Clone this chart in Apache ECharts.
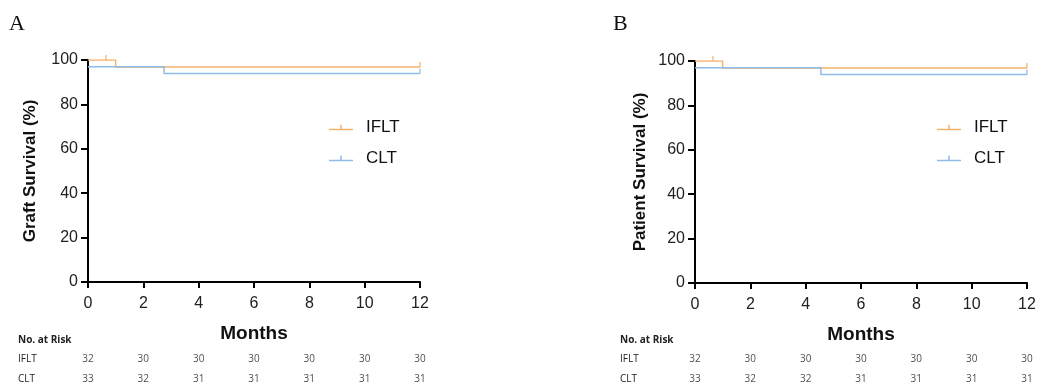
<!DOCTYPE html>
<html>
<head>
<meta charset="utf-8">
<script src="https://cdn.jsdelivr.net/npm/echarts@6/dist/echarts.min.js"></script>
<style>
  html, body { margin: 0; padding: 0; background: #fff; }
  #main { width: 1047px; height: 390px; }
</style>
</head>
<body>
<div id="main"></div>
<script>
// months ticks
const monthTicks = [0, 2, 4, 6, 8, 10, 12]
const groups = ['IFLT', 'CLT']

// A: graft survival (step points: time, %)
const graftIfltTime = [0, 1, 12]
const graftIfltSurv = [100, 96.9, 96.9]
const graftIfltCensor = [0.65, 12]
const graftCltTime = [0, 2.75, 12]
const graftCltSurv = [96.97, 93.94, 93.94]
const graftCltCensor = [12]

// B: patient survival
const patIfltTime = [0, 1, 12]
const patIfltSurv = [100, 96.9, 96.9]
const patIfltCensor = [0.65, 12]
const patCltTime = [0, 4.55, 12]
const patCltSurv = [96.97, 93.94, 93.94]
const patCltCensor = [12]

// number at risk
const graftRiskIflt = [32, 30, 30, 30, 30, 30, 30]
const graftRiskClt = [33, 32, 31, 31, 31, 31, 31]
const patRiskIflt = [32, 30, 30, 30, 30, 30, 30]
const patRiskClt = [33, 32, 32, 31, 31, 31, 31]

const ORANGE = '#f5b26b'
const BLUE = '#8dbbe8'
const FONT = 'Liberation Sans, Arial, sans-serif'
const tickIcon = 'path://M0,5h24v1.5H0z M11.25,1h1.5v4h-1.5z'

const chart = echarts.init(document.getElementById('main'))

function zip(xs, ys) {
  return xs.map((x, i) => [x, ys[i]])
}
function censorAt(times, xs, ys) {
  // survival value at time t from the step curve
  return times.map(t => {
    let v = ys[0]
    for (let i = 0; i < xs.length; i++) if (xs[i] <= t) v = ys[i]
    return [t, v]
  })
}

function survAxisX(idx) {
  return {
    gridIndex: idx, type: 'value', min: 0, max: 12, interval: 2,
    name: 'Months', nameLocation: 'middle', nameGap: 42,
    nameTextStyle: { fontFamily: FONT, fontSize: 19, fontWeight: 'bold', color: '#111' },
    axisLine: { lineStyle: { color: '#000', width: 2 } },
    axisTick: { show: true, length: 6, lineStyle: { color: '#000', width: 2 } },
    axisLabel: { fontFamily: FONT, fontSize: 16, color: '#222', margin: 14 },
    splitLine: { show: false }
  }
}
function survAxisY(idx, name, gap) {
  return {
    gridIndex: idx, type: 'value', min: 0, max: 100, interval: 20,
    name: name, nameLocation: 'middle', nameGap: gap,
    nameTextStyle: { fontFamily: FONT, fontSize: 17, fontWeight: 'bold', color: '#111' },
    axisLine: { show: true, lineStyle: { color: '#000', width: 2 } },
    axisTick: { show: true, length: 7, lineStyle: { color: '#000', width: 2 } },
    axisLabel: { fontFamily: FONT, fontSize: 16, color: '#222', margin: 10 },
    splitLine: { show: false }
  }
}
function riskAxisX(idx) {
  return { gridIndex: idx, type: 'value', min: 0, max: 12, show: false }
}
function riskAxisY(idx, left) {
  return {
    gridIndex: idx, type: 'category', data: groups, inverse: true,
    axisLine: { show: false }, axisTick: { show: false },
    axisLabel: { fontFamily: 'Open Sans, sans-serif', fontSize: 10, color: '#222', align: 'left', margin: left }
  }
}

function kmSeries(idx, name, color, xs, ys, censor) {
  return [
    {
      name: name, type: 'line', step: 'end', xAxisIndex: idx, yAxisIndex: idx,
      data: zip(xs, ys), symbol: 'none', lineStyle: { color: color, width: 1.5 },
      itemStyle: { color: color }, z: 3
    },
    {
      name: name, type: 'scatter', xAxisIndex: idx, yAxisIndex: idx,
      data: censorAt(censor, xs, ys), symbol: 'rect', symbolSize: [1.5, 5],
      symbolOffset: [0, -2.5], itemStyle: { color: color }, z: 4
    }
  ]
}
function riskSeries(idx, group, vals) {
  return {
    type: 'scatter', xAxisIndex: idx, yAxisIndex: idx, symbolSize: 0,
    data: monthTicks.map((m, i) => [m, group, vals[i]]),
    label: {
      show: true, position: 'inside', formatter: p => p.data[2],
      fontFamily: 'Open Sans, sans-serif', fontSize: 10, color: '#222'
    },
    silent: true
  }
}

function legendAt(left) {
  return {
    data: groups, orient: 'vertical', left: left, top: 114, itemGap: 14,
    itemWidth: 24, itemHeight: 8, icon: tickIcon,
    textStyle: { fontFamily: FONT, fontSize: 17, color: '#111', padding: [0, 0, 0, 8] }
  }
}

chart.setOption({
  animation: false,
  backgroundColor: '#fff',
  grid: [
    { left: 88, width: 332, top: 60, height: 222 },
    { left: 695, width: 332, top: 61, height: 222 },
    { left: 88, width: 332, top: 349, height: 40 },
    { left: 695, width: 332, top: 349, height: 40 }
  ],
  legend: [legendAt(324), legendAt(932)],
  xAxis: [survAxisX(0), survAxisX(1), riskAxisX(2), riskAxisX(3)],
  yAxis: [
    survAxisY(0, 'Graft Survival (%)', 49),
    survAxisY(1, 'Patient Survival (%)', 46),
    riskAxisY(2, 70),
    riskAxisY(3, 75)
  ],
  graphic: [
    { type: 'text', left: 9, top: 13, style: { text: 'A', font: '22px "Liberation Serif", serif', fill: '#111' } },
    { type: 'text', left: 613, top: 13, style: { text: 'B', font: '22px "Liberation Serif", serif', fill: '#111' } },
    { type: 'text', left: 18, top: 335, style: { text: 'No. at Risk', font: 'bold 10px "Open Sans", sans-serif', fill: '#222' } },
    { type: 'text', left: 620, top: 335, style: { text: 'No. at Risk', font: 'bold 10px "Open Sans", sans-serif', fill: '#222' } }
  ],
  series: [
    ...kmSeries(0, 'IFLT', ORANGE, graftIfltTime, graftIfltSurv, graftIfltCensor),
    ...kmSeries(0, 'CLT', BLUE, graftCltTime, graftCltSurv, graftCltCensor),
    ...kmSeries(1, 'IFLT', ORANGE, patIfltTime, patIfltSurv, patIfltCensor),
    ...kmSeries(1, 'CLT', BLUE, patCltTime, patCltSurv, patCltCensor),
    riskSeries(2, 'IFLT', graftRiskIflt),
    riskSeries(2, 'CLT', graftRiskClt),
    riskSeries(3, 'IFLT', patRiskIflt),
    riskSeries(3, 'CLT', patRiskClt)
  ]
})
</script>
</body>
</html>
